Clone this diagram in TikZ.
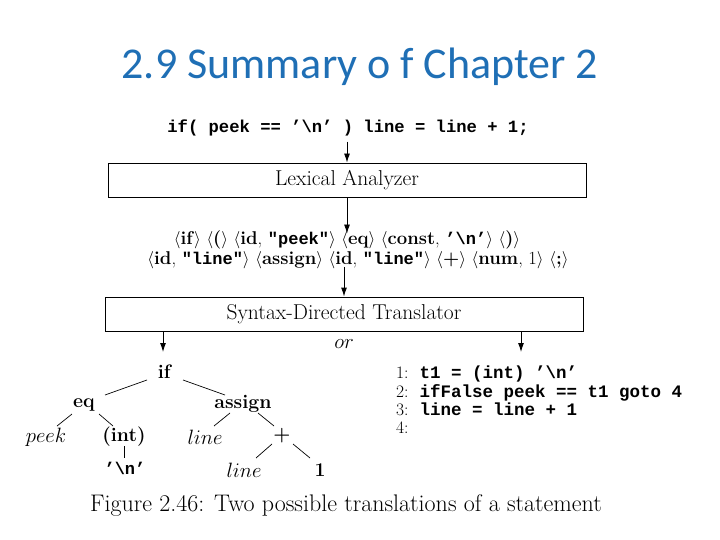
\documentclass[tikz,border=0pt]{standalone}
\usepackage{fontspec}
\setmonofont{Liberation Mono}
\newfontfamily\titlefont{Carlito}
\usetikzlibrary{arrows.meta}
\definecolor{titleblue}{RGB}{31,111,181}
\newcommand\cd[1]{{\ttfamily\bfseries #1}}
\newcommand\cdt[1]{{\ttfamily\bfseries\fontsize{17}{19}\selectfont #1}}
\newcommand\tok[1]{$\langle$#1$\rangle$}
\newcommand\nl{’\textbackslash n’}
\tikzset{
  arr/.style={draw, line width=0.9pt, -{Latex[length=9pt,width=6pt]}},
  procbox/.style={draw, line width=0.9pt, minimum width=478pt, minimum height=34pt, inner sep=0pt, font=\fontsize{21.5}{23}\selectfont},
  tn/.style={inner sep=1pt, font=\fontsize{19.5}{21}\selectfont},
  te/.style={draw, line width=0.7pt},
  tokline/.style={inner sep=0pt, font=\fontsize{18.5}{19}\selectfont},
}
\begin{document}
\begin{tikzpicture}[x=1pt,y=-1pt]
\useasboundingbox (0,0) rectangle (720,540);
\node[text=titleblue, font=\titlefont\fontsize{44}{48}\selectfont] (title) at (360,67) {2.9 Summary o f Chapter 2};
\node[font=\fontsize{17.2}{18}\selectfont] (src) at (348,128) {\cd{if( peek == \nl\ ) line = line + 1;}};
\node[procbox] (lex) at (347,180) {Lexical Analyzer};
\node[tokline] (tok1) at (347,240) {\tok{\textbf{if}} \tok{\textbf{(}} \tok{\textbf{id}, \cdt{"peek"}} \tok{\textbf{eq}} \tok{\textbf{const}, \cdt{\nl}} \tok{\textbf{)}}};
\node[tokline] (tok2) at (358,260) {\tok{\textbf{id}, \cdt{"line"}} \tok{\textbf{assign}} \tok{\textbf{id}, \cdt{"line"}} \tok{\textbf{+}} \tok{\textbf{num}, 1} \tok{\textbf{;}}};
\node[procbox] (sdt) at (344,314) {Syntax-Directed Translator};
\node[font=\fontsize{20}{22}\selectfont] (or) at (344,344) {$or$};
\draw[arr] (src.south -| lex.north) ++(0,2) -- (lex.north);
\draw[arr] (lex.south) -- ([yshift=-3pt]tok1.north -| lex.south);
\draw[arr] ([yshift=2pt]tok2.south -| sdt.north) -- (sdt.north);
% tree
\node[tn] (if) at (165,372) {\textbf{if}};
\node[tn] (eq) at (84,405) {\textbf{eq}};
\node[tn] (asg) at (243,404) {\textbf{assign}};
\node[tn] (peek) at (46,437) {$peek$};
\node[tn] (int) at (124,437) {\textbf{(int)}};
\node[tn] (line1) at (205,437) {$line$};
\node[tn] (plus) at (282,436) {\textbf{+}};
\node[tn] (nl) at (125,468) {\cdt{\nl}};
\node[tn] (line2) at (244,470) {$line$};
\node[tn] (one) at (320,470) {\textbf{1}};
\draw[te] (147,380) -- (105,395);
\draw[te] (183,380) -- (225,395);
\draw[te] (72,414) -- (57,426);
\draw[te] (99,414) -- (113,426);
\draw[te] (230,413) -- (214,426);
\draw[te] (258,413) -- (274,426);
\draw[te] (124,446) -- (124,458);
\draw[te] (272,444) -- (256,458);
\draw[te] (293,444) -- (310,458);
% three-address code
\node[anchor=north west, inner sep=0pt, font=\fontsize{17.5}{19}\selectfont, align=left] (tac) at (396,365) {%
\begin{tabular}{@{}l@{\hspace{11pt}}l@{}}
1: & \cd{t1 = (int) \nl}\\[0pt]
2: & \cd{ifFalse peek == t1 goto 4}\\[-1pt]
3: & \cd{line = line + 1}\\[-1pt]
4: &
\end{tabular}};
\draw[arr] (sdt.south -| 163,0) -- (163,352);
\draw[arr] (sdt.south -| 521,0) -- (521,352);
\node[font=\fontsize{24}{26}\selectfont] (cap) at (346,506) {Figure 2.46: Two possible translations of a statement};
\end{tikzpicture}
\end{document}
